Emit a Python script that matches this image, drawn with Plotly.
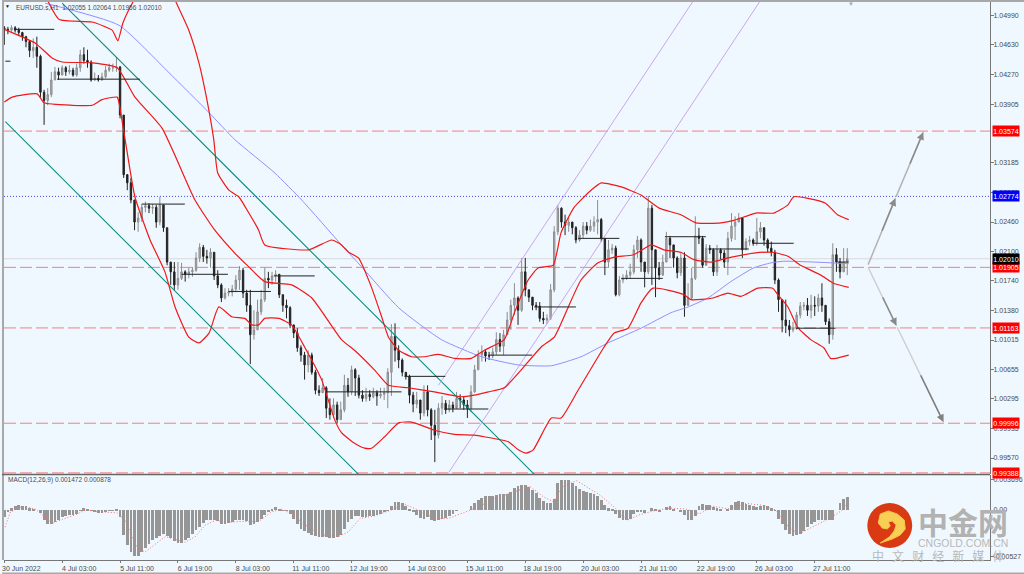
import plotly.graph_objects as go

W, H = 1024, 574

# 2 hour bars, EURUSD
closes = [
    1.0482, 1.0481, 1.0484, 1.0481, 1.0478, 1.0473, 1.0467, 1.0456, 1.0460, 1.0449,
    1.0405, 1.0395, 1.0402, 1.0420, 1.0430, 1.0426, 1.0435, 1.0430, 1.0432, 1.0426,
    1.0435, 1.0451, 1.0444, 1.0442, 1.0420, 1.0422, 1.0420, 1.0424, 1.0432, 1.0435,
    1.0435, 1.0436, 1.0377, 1.0304, 1.0294, 1.0273, 1.0246, 1.0251, 1.0264, 1.0266,
    1.0263, 1.0264, 1.0246, 1.0267, 1.0239, 1.0197, 1.0185, 1.0169, 1.0177, 1.0185,
    1.0182, 1.0185, 1.0187, 1.0202, 1.0215, 1.0204, 1.0202, 1.0209, 1.0180, 1.0169,
    1.0153, 1.0159, 1.0160, 1.0164, 1.0175, 1.0187, 1.0159, 1.0144, 1.0108, 1.0114,
    1.0136, 1.0151, 1.0177, 1.0175, 1.0180, 1.0182, 1.0157, 1.0144, 1.0141, 1.0120,
    1.0110, 1.0092, 1.0083, 1.0071, 1.0083, 1.0062, 1.0040, 1.0037, 1.0043, 1.0018,
    1.0010, 1.0022, 1.0004, 1.0016, 1.0046, 1.0038, 1.0065, 1.0055, 1.0034, 1.0030,
    1.0035, 1.0032, 1.0037, 1.0033, 1.0035, 1.0037, 1.0062, 1.0106, 1.0089, 1.0077,
    1.0062, 1.0057, 1.0034, 1.0023, 1.0028, 1.0012, 1.0038, 1.0016, 0.9997, 0.9985,
    1.0018, 1.0024, 1.0016, 1.0022, 1.0018, 1.0030, 1.0028, 1.0022, 1.0018, 1.0038,
    1.0065, 1.0083, 1.0087, 1.0082, 1.0082, 1.0087, 1.0102, 1.0094, 1.0108, 1.0126,
    1.0144, 1.0153, 1.0138, 1.0185, 1.0163, 1.0154, 1.0144, 1.0143, 1.0128, 1.0126,
    1.0128, 1.0163, 1.0234, 1.0263, 1.0246, 1.0242, 1.0246, 1.0239, 1.0224, 1.0230,
    1.0241, 1.0236, 1.0241, 1.0246, 1.0249, 1.0226, 1.0197, 1.0212, 1.0214, 1.0157,
    1.0175, 1.0177, 1.0181, 1.0185, 1.0212, 1.0224, 1.0197, 1.0185, 1.0263, 1.0212,
    1.0190, 1.0181, 1.0197, 1.0226, 1.0218, 1.0202, 1.0184, 1.0202, 1.0144, 1.0153,
    1.0177, 1.0229, 1.0226, 1.0193, 1.0214, 1.0212, 1.0185, 1.0212, 1.0208, 1.0197,
    1.0226, 1.0241, 1.0246, 1.0251, 1.0212, 1.0222, 1.0224, 1.0220, 1.0234, 1.0239,
    1.0224, 1.0214, 1.0209, 1.0175, 1.0151, 1.0126, 1.0119, 1.0114, 1.0116, 1.0132,
    1.0143, 1.0144, 1.0138, 1.0144, 1.0143, 1.0153, 1.0144, 1.0124, 1.0108, 1.0206,
    1.0197, 1.0185, 1.0197, 1.0201,
]
highs = [
    1.0486, 1.0485, 1.0487, 1.0486, 1.0484, 1.0479, 1.0474, 1.0467, 1.0471, 1.0473,
    1.0451, 1.0408, 1.0410, 1.0430, 1.0436, 1.0435, 1.0438, 1.0437, 1.0438, 1.0435,
    1.0440, 1.0457, 1.0460, 1.0457, 1.0444, 1.0429, 1.0426, 1.0429, 1.0437, 1.0440,
    1.0440, 1.0448, 1.0437, 1.0377, 1.0302, 1.0300, 1.0267, 1.0258, 1.0268, 1.0271,
    1.0269, 1.0268, 1.0267, 1.0277, 1.0267, 1.0239, 1.0197, 1.0197, 1.0197, 1.0196,
    1.0187, 1.0190, 1.0191, 1.0209, 1.0220, 1.0218, 1.0212, 1.0214, 1.0209, 1.0187,
    1.0171, 1.0165, 1.0165, 1.0169, 1.0181, 1.0192, 1.0190, 1.0163, 1.0163, 1.0138,
    1.0151, 1.0163, 1.0190, 1.0185, 1.0185, 1.0187, 1.0181, 1.0157, 1.0151, 1.0143,
    1.0120, 1.0116, 1.0095, 1.0087, 1.0089, 1.0086, 1.0065, 1.0046, 1.0055, 1.0045,
    1.0030, 1.0030, 1.0026, 1.0026, 1.0059, 1.0055, 1.0070, 1.0067, 1.0059, 1.0040,
    1.0043, 1.0040, 1.0043, 1.0040, 1.0043, 1.0043, 1.0067, 1.0121, 1.0122, 1.0095,
    1.0079, 1.0062, 1.0059, 1.0038, 1.0038, 1.0028, 1.0046, 1.0046, 1.0018, 1.0016,
    1.0024, 1.0033, 1.0028, 1.0028, 1.0026, 1.0038, 1.0035, 1.0033, 1.0028, 1.0046,
    1.0071, 1.0089, 1.0095, 1.0089, 1.0087, 1.0092, 1.0111, 1.0110, 1.0114, 1.0136,
    1.0151, 1.0171, 1.0155, 1.0202, 1.0202, 1.0163, 1.0153, 1.0148, 1.0148, 1.0136,
    1.0133, 1.0170, 1.0241, 1.0267, 1.0264, 1.0255, 1.0252, 1.0246, 1.0241, 1.0236,
    1.0246, 1.0246, 1.0249, 1.0253, 1.0273, 1.0251, 1.0226, 1.0224, 1.0219, 1.0217,
    1.0180, 1.0182, 1.0187, 1.0195, 1.0218, 1.0229, 1.0226, 1.0197, 1.0278, 1.0267,
    1.0212, 1.0197, 1.0206, 1.0234, 1.0229, 1.0218, 1.0204, 1.0209, 1.0209, 1.0171,
    1.0190, 1.0253, 1.0239, 1.0229, 1.0219, 1.0218, 1.0214, 1.0218, 1.0214, 1.0212,
    1.0234, 1.0257, 1.0253, 1.0257, 1.0249, 1.0226, 1.0229, 1.0226, 1.0251, 1.0246,
    1.0236, 1.0226, 1.0222, 1.0212, 1.0177, 1.0151, 1.0151, 1.0126, 1.0124, 1.0136,
    1.0148, 1.0148, 1.0153, 1.0157, 1.0155, 1.0158, 1.0171, 1.0144, 1.0128, 1.0220,
    1.0214, 1.0202, 1.0214, 1.0214,
]
lows = [
    1.0463, 1.0476, 1.0479, 1.0478, 1.0474, 1.0468, 1.0460, 1.0448, 1.0447, 1.0435,
    1.0399, 1.0365, 1.0389, 1.0399, 1.0420, 1.0420, 1.0426, 1.0425, 1.0427, 1.0424,
    1.0424, 1.0430, 1.0440, 1.0435, 1.0418, 1.0419, 1.0418, 1.0419, 1.0422, 1.0430,
    1.0430, 1.0430, 1.0373, 1.0300, 1.0285, 1.0269, 1.0236, 1.0234, 1.0246, 1.0258,
    1.0257, 1.0256, 1.0239, 1.0242, 1.0234, 1.0193, 1.0169, 1.0163, 1.0163, 1.0175,
    1.0173, 1.0177, 1.0179, 1.0185, 1.0197, 1.0197, 1.0195, 1.0190, 1.0175, 1.0165,
    1.0148, 1.0151, 1.0155, 1.0155, 1.0160, 1.0163, 1.0153, 1.0136, 1.0072, 1.0102,
    1.0114, 1.0132, 1.0148, 1.0165, 1.0169, 1.0173, 1.0153, 1.0136, 1.0128, 1.0116,
    1.0104, 1.0087, 1.0075, 1.0053, 1.0062, 1.0059, 1.0035, 1.0033, 1.0038, 1.0006,
    1.0004, 1.0006, 0.9999, 1.0004, 1.0013, 1.0032, 1.0034, 1.0033, 1.0030, 1.0026,
    1.0026, 1.0027, 1.0030, 1.0021, 1.0030, 1.0028, 1.0018, 1.0033, 1.0075, 1.0067,
    1.0057, 1.0053, 1.0024, 1.0013, 1.0018, 1.0004, 1.0008, 1.0008, 0.9979, 0.9952,
    0.9981, 1.0010, 1.0011, 1.0013, 1.0013, 1.0022, 1.0018, 1.0016, 1.0006, 1.0013,
    1.0037, 1.0065, 1.0075, 1.0075, 1.0077, 1.0079, 1.0083, 1.0087, 1.0083, 1.0111,
    1.0114, 1.0132, 1.0120, 1.0136, 1.0155, 1.0148, 1.0138, 1.0138, 1.0124, 1.0121,
    1.0121, 1.0126, 1.0160, 1.0230, 1.0239, 1.0230, 1.0234, 1.0231, 1.0220, 1.0222,
    1.0226, 1.0231, 1.0234, 1.0234, 1.0231, 1.0222, 1.0181, 1.0190, 1.0207, 1.0155,
    1.0155, 1.0171, 1.0175, 1.0177, 1.0182, 1.0202, 1.0185, 1.0166, 1.0182, 1.0169,
    1.0154, 1.0175, 1.0180, 1.0197, 1.0202, 1.0190, 1.0177, 1.0180, 1.0130, 1.0146,
    1.0151, 1.0175, 1.0219, 1.0190, 1.0204, 1.0207, 1.0180, 1.0180, 1.0200, 1.0190,
    1.0181, 1.0222, 1.0224, 1.0246, 1.0202, 1.0212, 1.0217, 1.0217, 1.0217, 1.0226,
    1.0217, 1.0209, 1.0204, 1.0170, 1.0136, 1.0111, 1.0110, 1.0106, 1.0111, 1.0114,
    1.0128, 1.0138, 1.0131, 1.0128, 1.0131, 1.0136, 1.0136, 1.0120, 1.0097, 1.0102,
    1.0185, 1.0177, 1.0185, 1.0181,
]
opens = [1.0484] + closes[:-1]

macd_hist = [
    -0.0007, -0.0002, 0.0002, 0.0004, 0.0005, 0.0004, 0.0004, 0.0002, 0.0001, 0.0000,
    -0.0003, -0.0011, -0.0015, -0.0015, -0.0013, -0.0010, -0.0007, -0.0006, -0.0005, -0.0005,
    -0.0004, -0.0001, 0.0002, 0.0001, -0.0001, -0.0002, -0.0003, -0.0003, -0.0002, -0.0001,
    -0.0001, 0.0001, -0.0007, -0.0026, -0.0037, -0.0044, -0.0048, -0.0048, -0.0044, -0.0040,
    -0.0036, -0.0032, -0.0029, -0.0027, -0.0025, -0.0027, -0.0030, -0.0033, -0.0035, -0.0035,
    -0.0032, -0.0029, -0.0025, -0.0021, -0.0018, -0.0014, -0.0011, -0.0010, -0.0011, -0.0012,
    -0.0015, -0.0015, -0.0014, -0.0013, -0.0011, -0.0010, -0.0011, -0.0012, -0.0016, -0.0015,
    -0.0013, -0.0009, -0.0005, -0.0002, 0.0001, 0.0003, 0.0001, -0.0001, -0.0001, -0.0004,
    -0.0009, -0.0015, -0.0020, -0.0022, -0.0024, -0.0026, -0.0027, -0.0028, -0.0028, -0.0028,
    -0.0029, -0.0029, -0.0028, -0.0026, -0.0020, -0.0013, -0.0009, -0.0006, -0.0006, -0.0007,
    -0.0007, -0.0006, -0.0006, -0.0005, -0.0004, -0.0002, -0.0001, 0.0004, 0.0008, 0.0008,
    0.0007, 0.0004, 0.0001, -0.0002, -0.0005, -0.0008, -0.0009, -0.0007, -0.0010, -0.0012,
    -0.0011, -0.0009, -0.0008, -0.0006, -0.0004, -0.0001, 0.0000, 0.0000, 0.0000, 0.0004,
    0.0007, 0.0011, 0.0013, 0.0015, 0.0015, 0.0015, 0.0016, 0.0017, 0.0017, 0.0017,
    0.0019, 0.0023, 0.0025, 0.0026, 0.0026, 0.0024, 0.0021, 0.0018, 0.0013, 0.0010,
    0.0007, 0.0007, 0.0012, 0.0029, 0.0032, 0.0032, 0.0032, 0.0029, 0.0025, 0.0022,
    0.0020, 0.0019, 0.0018, 0.0017, 0.0015, 0.0011, 0.0005, 0.0002, 0.0001, -0.0004,
    -0.0008, -0.0011, -0.0011, -0.0009, -0.0004, -0.0002, -0.0002, -0.0003, 0.0000, 0.0002,
    0.0001, -0.0002, 0.0000, 0.0003, 0.0004, 0.0001, 0.0000, -0.0002, -0.0005, -0.0010,
    -0.0011, -0.0006, 0.0004, 0.0006, 0.0005, 0.0005, 0.0003, 0.0002, 0.0001, 0.0000,
    0.0001, 0.0005, 0.0008, 0.0010, 0.0008, 0.0006, 0.0005, 0.0004, 0.0003, 0.0004,
    0.0005, 0.0004, 0.0002, -0.0001, -0.0009, -0.0015, -0.0021, -0.0025, -0.0027, -0.0026,
    -0.0025, -0.0022, -0.0018, -0.0015, -0.0013, -0.0011, -0.0010, -0.0010, -0.0010, -0.0011,
    0.0000, 0.0007, 0.0012, 0.0014,
]

signal_bar = [
    0.2, 1.7, 5, 8.6, 10.5, 13.2, 16, 19.7, 22.4, 27, 31.2, 33.5, 35.3, 37.1, 39, 42.7, 44.5, 48.2, 50, 52.8,
    55.5, 58.3, 62, 65.7, 70.3, 73.9, 76.7, 79.4, 84, 87.7, 92.3, 95.1, 98.3, 102.4, 107, 110.7, 114.4, 119,
    122.7, 128.2, 131.9, 135.5, 140.1, 145.3, 149, 151.7, 154.5, 158.2, 164.6, 168.3, 172, 175.6, 179.3, 183.9,
    188.5, 192.2, 195.9, 200.5, 205, 209.7, 213.3, 217, 219.7, 224.4, 228, 231.7, 233.4,
]
signal_val = [
    -0.0018, -0.0002, 0.0004, 0.0001, -0.0005, -0.0014, -0.0010, -0.0005, 0.0000, -0.0002, -0.0003, -0.0011,
    -0.0028, -0.0042, -0.0044, -0.0033, -0.0028, -0.0032, -0.0034, -0.0028, -0.0016, -0.0011, -0.0013, -0.0012,
    -0.0012, -0.0002, 0.0001, -0.0004, -0.0018, -0.0026, -0.0028, -0.0023, -0.0009, -0.0006, 0.0000, 0.0006,
    0.0000, -0.0009, -0.0009, -0.0001, 0.0005, 0.0012, 0.0018, 0.0025, 0.0014, 0.0009, 0.0025, 0.0031, 0.0016,
    0.0004, -0.0011, -0.0005, -0.0001, 0.0002, 0.0001, -0.0004, 0.0004, 0.0001, 0.0007, 0.0005, 0.0000, -0.0019,
    -0.0025, -0.0016, -0.0009, 0.0000, 0.0009,
]

# bollinger bands
mid_bar = [
    0, 8.6, 13.2, 16, 24.3, 31.2, 36.1, 43.6, 52.7, 58.2, 63.7, 67.6, 72, 79.4, 85, 93.2, 96.8, 102.3, 106.2,
    111.7, 118.9, 126.3, 129.9, 133.8, 138.2, 142.9, 148.4, 152, 155.9, 159.4, 164.1, 168.6, 174, 178.8, 182.3,
    187, 190.6, 195.3, 200, 207.2, 212.4, 216.6, 220.1, 225.7, 229.2, 233.4,
]
mid_val = [
    1.0482, 1.0465, 1.0447, 1.0442, 1.0441, 1.0435, 1.0399, 1.0361, 1.0273, 1.0236, 1.0208, 1.0191, 1.0173,
    1.0169, 1.0153, 1.0102, 1.0089, 1.0065, 1.0046, 1.0043, 1.0038, 1.0032, 1.0034, 1.0038, 1.0043, 1.0065,
    1.0093, 1.0105, 1.0142, 1.0175, 1.0196, 1.0203, 1.0206, 1.0218, 1.0212, 1.0209, 1.0200, 1.0197, 1.0202,
    1.0208, 1.0209, 1.0204, 1.0193, 1.0181, 1.0171, 1.0166,
]
low_bar = [
    0, 2.2, 9.1, 11, 18.8, 24.3, 27, 31.2, 31.7, 33.4, 36.1, 40.3, 44.4, 47.2, 51, 53.8, 56.6, 59.3, 62.9, 66.5,
    68.4, 70.3, 72, 75.9, 79.4, 83, 87.7, 91.3, 93.2, 96.8, 99.6, 101.5, 105.1, 109, 112.6, 118.9, 124.4, 129.9,
    132.7, 139.3, 142.1, 144.3, 146.2, 151.2, 153.9, 158.6, 165.8, 168.6, 172.4, 176, 179.3, 187.9, 189.8, 195.9,
    200, 203.6, 208.3, 212.4, 213.8, 216.6, 219.3, 222.9, 226.5, 228.4, 229.8, 233.4,
]
low_val = [
    1.0393, 1.0399, 1.0403, 1.0392, 1.0389, 1.0389, 1.0396, 1.0399, 1.0392, 1.0347, 1.0277, 1.0224, 1.0185,
    1.0142, 1.0105, 1.0098, 1.0110, 1.0142, 1.0130, 1.0128, 1.0120, 1.0120, 1.0128, 1.0128, 1.0120, 1.0093,
    1.0053, 1.0004, 0.9988, 0.9975, 0.9969, 0.9969, 0.9983, 1.0000, 1.0001, 0.9991, 0.9986, 0.9985, 0.9983,
    0.9977, 0.9967, 0.9963, 0.9967, 1.0006, 1.0006, 1.0040, 1.0093, 1.0110, 1.0116, 1.0147, 1.0165, 1.0157,
    1.0151, 1.0153, 1.0159, 1.0155, 1.0165, 1.0165, 1.0157, 1.0142, 1.0117, 1.0102, 1.0092, 1.0079, 1.0079,
    1.0083,
]
up_bar = [
    11.9, 15.2, 24.3, 29.8, 31.4, 32.8, 35.9, 43, 47.2, 51, 53.8, 56, 57.9, 59, 62.1, 64.8, 67.6, 70.3, 72, 84.1,
    90.5, 93.2, 95.2, 97.9, 101.5, 104.3, 106.2, 109, 112.6, 116.1, 120, 124.4, 129.1, 132.7, 138.2, 141, 144.8,
    147.6, 151.7, 153.9, 157.5, 162.2, 165, 170.5, 176, 181, 187, 191.2, 198.1, 201.7, 207.7, 212.7, 216.6, 218.2,
    222.1, 227, 230.3, 233.4,
]
up_val = [
    1.0518, 1.0494, 1.0491, 1.0481, 1.0468, 1.0490, 1.0518, 1.0565, 1.0518, 1.0481, 1.0441, 1.0396, 1.0347,
    1.0306, 1.0285, 1.0277, 1.0257, 1.0236, 1.0218, 1.0212, 1.0224, 1.0218, 1.0209, 1.0202, 1.0166, 1.0130,
    1.0105, 1.0089, 1.0081, 1.0081, 1.0084, 1.0079, 1.0079, 1.0089, 1.0102, 1.0135, 1.0175, 1.0190, 1.0193,
    1.0233, 1.0264, 1.0285, 1.0294, 1.0289, 1.0279, 1.0263, 1.0255, 1.0245, 1.0245, 1.0248, 1.0257, 1.0257,
    1.0267, 1.0277, 1.0275, 1.0269, 1.0255, 1.0249,
]
ma_bar = [
    11.3, 31.7, 45.5, 56.6, 63.7, 74.8, 82.2, 93.2, 98.8, 109, 120.8, 131.9, 142.1, 151.2, 159.4, 166.9, 176,
    184.3, 189, 194.5, 200.8, 207.2, 211.9, 215.4, 223.7, 233.4,
]
ma_val = [
    1.0514, 1.0487, 1.0429, 1.0380, 1.0347, 1.0306, 1.0273, 1.0218, 1.0191, 1.0141, 1.0102, 1.0081, 1.0071,
    1.0070, 1.0081, 1.0098, 1.0116, 1.0135, 1.0142, 1.0153, 1.0173, 1.0190, 1.0196, 1.0198, 1.0197, 1.0195,
]

# daily pivot marks: start bar, end bar, price
pivot_start = [0.3, 2.8, 14.6, 38, 49, 62, 74.5, 88.8, 110.6, 121.7, 133.8, 146.5, 158.6, 170.5, 182.6, 194.8, 206.9, 218.8, 230.3]
pivot_end = [1.7, 13.8, 37.5, 49.9, 61.8, 73.7, 85.8, 109.8, 121.9, 133.8, 145.9, 158, 170, 182, 193.9, 205.8, 218.2, 229.8, 233.4]
pivot_price = [1.0443, 1.0482, 1.0421, 1.0268, 1.0182, 1.0161, 1.0180, 1.0038, 1.0057, 1.0017, 1.0083, 1.0142, 1.0226, 1.0177, 1.0228, 1.0213, 1.0220, 1.0116, 1.0197]

# trend channels: two bars and two prices per line
teal_bars = [[16, 146.5], [0.3, 97.9]]
teal_prices = [[1.0514, 0.9937], [1.0369, 0.9937]]
purple_bars = [[120, 190.6], [122.8, 209.1]]
purple_prices = [[1.0046, 1.0518], [0.9939, 1.0518]]

# projected moves
arrow_bars = [[238.6, 246.3], [246.3, 254], [238.6, 246.6], [246.6, 259.6]]
arrow_prices = [[1.0192, 1.0275], [1.0275, 1.0356], [1.0192, 1.0119], [1.0119, 1.0001]]

red_levels = [1.03574, 1.01905, 1.01163, 0.99996, 0.99388]
blue_level = 1.02774
last_price = 1.02010

price_ticks = [1.04990, 1.04630, 1.04270, 1.03905, 1.03185, 1.02825, 1.02460, 1.02100, 1.01740, 1.01380, 1.01015, 1.00655, 1.00295, 0.99935, 0.99570]
time_ticks = ['30 Jun 2022', '4 Jul 03:00', '5 Jul 11:00', '6 Jul 19:00', '8 Jul 03:00', '11 Jul 11:00', '12 Jul 19:00', '14 Jul 03:00',
              '15 Jul 11:00', '18 Jul 19:00', '20 Jul 03:00', '21 Jul 11:00', '22 Jul 19:00', '26 Jul 03:00', '27 Jul 11:00']

BG = '#F0F8FF'
RED = '#FF0000'
FONT = 'Liberation Sans'
TEXT = '#4a4a4a'


def px_x(x):
    return x / W


def px_y(y):
    return 1 - y / H


bars = list(range(len(closes)))

fig = go.Figure()

for b, p in zip(teal_bars, teal_prices):
    fig.add_trace(go.Scatter(x=b, y=p, mode='lines', line=dict(color='#0A9080', width=1.1), yaxis='y'))
for b, p in zip(purple_bars, purple_prices):
    fig.add_trace(go.Scatter(x=b, y=p, mode='lines', line=dict(color='#C8A6EE', width=1), yaxis='y'))

fig.add_trace(go.Candlestick(
    x=bars, open=opens, high=highs, low=lows, close=closes,
    increasing=dict(line=dict(color='#8c8c8c', width=1), fillcolor='#b4b4b4'),
    decreasing=dict(line=dict(color='#222222', width=1), fillcolor='#222222'),
    whiskerwidth=0, yaxis='y',
))

fig.add_trace(go.Scatter(x=ma_bar, y=ma_val, mode='lines', line=dict(color='#8F8FFF', width=1, shape='spline', smoothing=0.5), yaxis='y'))
for b, v in ((mid_bar, mid_val), (low_bar, low_val), (up_bar, up_val)):
    fig.add_trace(go.Scatter(x=b, y=v, mode='lines', line=dict(color='#F01818', width=1.2, shape='spline', smoothing=0.5), yaxis='y'))

for s, e, p in zip(pivot_start, pivot_end, pivot_price):
    fig.add_trace(go.Scatter(x=[s, e], y=[p, p], mode='lines', line=dict(color='#222222', width=1), yaxis='y'))

fig.add_trace(go.Bar(x=bars, y=macd_hist, marker=dict(color='#969696', line=dict(width=0)), width=0.78, yaxis='y2'))
fig.add_trace(go.Scatter(x=signal_bar, y=signal_val, mode='lines', line=dict(color='#F27070', width=1, dash='1px,2px'), yaxis='y2'))

shapes = []
for lvl in red_levels:
    shapes.append(dict(type='line', xref='paper', yref='y', x0=px_x(2), x1=px_x(990), y0=lvl, y1=lvl, layer='below',
                       line=dict(color='#F08080', width=1, dash='12px,4px')))
shapes.append(dict(type='line', xref='paper', yref='y', x0=px_x(2), x1=px_x(990), y0=blue_level, y1=blue_level, layer='below',
                   line=dict(color='#4848F0', width=1, dash='1px,2px')))
shapes.append(dict(type='line', xref='paper', yref='y', x0=px_x(2), x1=px_x(990), y0=last_price, y1=last_price, layer='below',
                   line=dict(color='#D8D8D8', width=1)))
# frame
shapes.append(dict(type='rect', xref='paper', yref='paper', x0=0, x1=1, y0=px_y(2), y1=1, line_width=0, fillcolor='#A8A8A8'))
shapes.append(dict(type='rect', xref='paper', yref='paper', x0=0, x1=px_x(2), y0=px_y(560), y1=1, line_width=0, fillcolor='#A8A8A8'))
shapes.append(dict(type='rect', xref='paper', yref='paper', x0=0, x1=1, y0=0, y1=px_y(572.5), line_width=0, fillcolor='#A8A8A8'))
shapes.append(dict(type='line', xref='paper', yref='paper', x0=0, x1=px_x(990), y0=px_y(474.5), y1=px_y(474.5), line=dict(color='#666666', width=1.5)))

# logo
shapes.append(dict(type='circle', xref='paper', yref='paper', x0=px_x(867), x1=px_x(912), y0=px_y(548), y1=px_y(503),
                   line_width=0, fillcolor='#D93A14'))
swirl = [(878, 523), (880, 514), (888, 511), (897, 514), (904, 520), (905, 529), (900, 535), (892, 539), (880, 543),
         (889, 537), (894, 531), (896, 525), (892, 521), (888, 522), (890, 526), (887, 529), (882, 528)]
path = 'M ' + ' L '.join(f'{px_x(a):.4f},{px_y(b):.4f}' for a, b in swirl) + ' Z'
shapes.append(dict(type='path', xref='paper', yref='paper', path=path, line=dict(color='#F6C64A', width=1), fillcolor='#F9CE55'))

annotations = []
# each move gets darker towards its head: light full shaft, darker last part with the head
for bx, pr, cols in zip(arrow_bars, arrow_prices, [('#b4b4b4', '#8a8a8a'), ('#b4b4b4', '#8a8a8a'), ('#d0d0d0', '#8a8a8a'), ('#d0d0d0', '#808080')]):
    xm = (bx[0] + bx[1]) / 2
    ym = (pr[0] + pr[1]) / 2
    annotations.append(dict(x=bx[1], y=pr[1], ax=bx[0], ay=pr[0], xref='x', yref='y', axref='x', ayref='y', text='',
                            showarrow=True, arrowhead=0, arrowwidth=1.5, arrowcolor=cols[0]))
    annotations.append(dict(x=bx[1], y=pr[1], ax=xm, ay=ym, xref='x', yref='y', axref='x', ayref='y', text='',
                            showarrow=True, arrowhead=2, arrowsize=1, arrowwidth=1.5, arrowcolor=cols[1]))


def price_box(value, color):
    return dict(x=px_x(992), y=value, xref='paper', yref='y', xanchor='left', yanchor='middle', text=f'{value:.5f}',
                showarrow=False, bgcolor=color, font=dict(family=FONT, size=7, color='white'), width=26, height=10, borderpad=0)


for lvl in red_levels:
    annotations.append(price_box(lvl, RED))
annotations.append(price_box(blue_level, '#0000FF'))
annotations.append(price_box(last_price, '#000000'))


def paper_text(x, y, text, size, color, family=FONT, anchor='center'):
    return dict(x=px_x(x), y=px_y(y), xref='paper', yref='paper', xanchor=anchor, yanchor='middle', showarrow=False,
                text=text, font=dict(family=family, size=size, color=color))


annotations.append(paper_text(12, 7, 'EURUSD.s,H1  1.02055 1.02064 1.01956 1.02010', 6.5, TEXT, anchor='left'))
annotations.append(paper_text(6, 6, '▼', 5, '#222222'))
annotations.append(paper_text(851, 4, '▼', 6, '#a8a8a8'))
annotations.append(paper_text(4, 480, 'MACD(12,26,9) 0.001472 0.000878', 6.5, TEXT, anchor='left'))
annotations.append(paper_text(963, 521, '<b>中金网</b>', 30, '#B2B2B2', family='Noto Sans CJK SC'))
annotations.append(paper_text(963, 543, 'CNGOLD.COM.CN', 10.5, '#B8B8B8'))
annotations.append(paper_text(937.5, 555, '中\u00a0\u00a0\u00a0文\u00a0\u00a0\u00a0财\u00a0\u00a0\u00a0经\u00a0\u00a0\u00a0新\u00a0\u00a0\u00a0媒\u00a0\u00a0\u00a0体',
                              12, '#B8B8B8', family='Noto Sans CJK SC'))

fig.update_layout(
    width=W, height=H,
    margin=dict(l=0, r=0, t=0, b=0),
    paper_bgcolor=BG, plot_bgcolor=BG,
    showlegend=False,
    bargap=0, boxgap=0.45,
    shapes=shapes, annotations=annotations,
    font=dict(family=FONT, size=7, color=TEXT),
    xaxis=dict(
        domain=[px_x(2), px_x(990)], range=[-0.08, 272.47], anchor='y2',
        tickvals=[16 * i for i in range(len(time_ticks))], ticktext=time_ticks,
        ticks='outside', ticklen=2, tickcolor='#777777', tickangle=0,
        ticklabelshift=17, showgrid=False, zeroline=False,
        showline=True, linecolor='#777777', linewidth=1,
        rangeslider=dict(visible=False),
    ),
    yaxis=dict(
        domain=[px_y(474), px_y(2)], range=[0.99374, 1.05155], side='right', anchor='x',
        tickvals=price_ticks, ticktext=[f'{v:.5f}' for v in price_ticks],
        ticks='outside', ticklen=3, tickcolor='#777777', showgrid=False, zeroline=False,
        showline=True, linecolor='#777777', linewidth=1, ticklabelstandoff=-2,
    ),
    yaxis2=dict(
        domain=[px_y(560), px_y(475)], range=[-0.00527, 0.003696], side='right', anchor='x',
        tickvals=[0.0032, 0, -0.0049], ticktext=['0.003696', '0.00', '-0.00527'],
        ticks='outside', ticklen=3, tickcolor='#777777', showgrid=False, zeroline=False,
        showline=True, linecolor='#777777', linewidth=1, ticklabelstandoff=-2,
    ),
)

fig.write_html("out.html", config={'displayModeBar': False},
               post_script="document.body.style.margin='0';document.body.style.overflow='hidden';")
